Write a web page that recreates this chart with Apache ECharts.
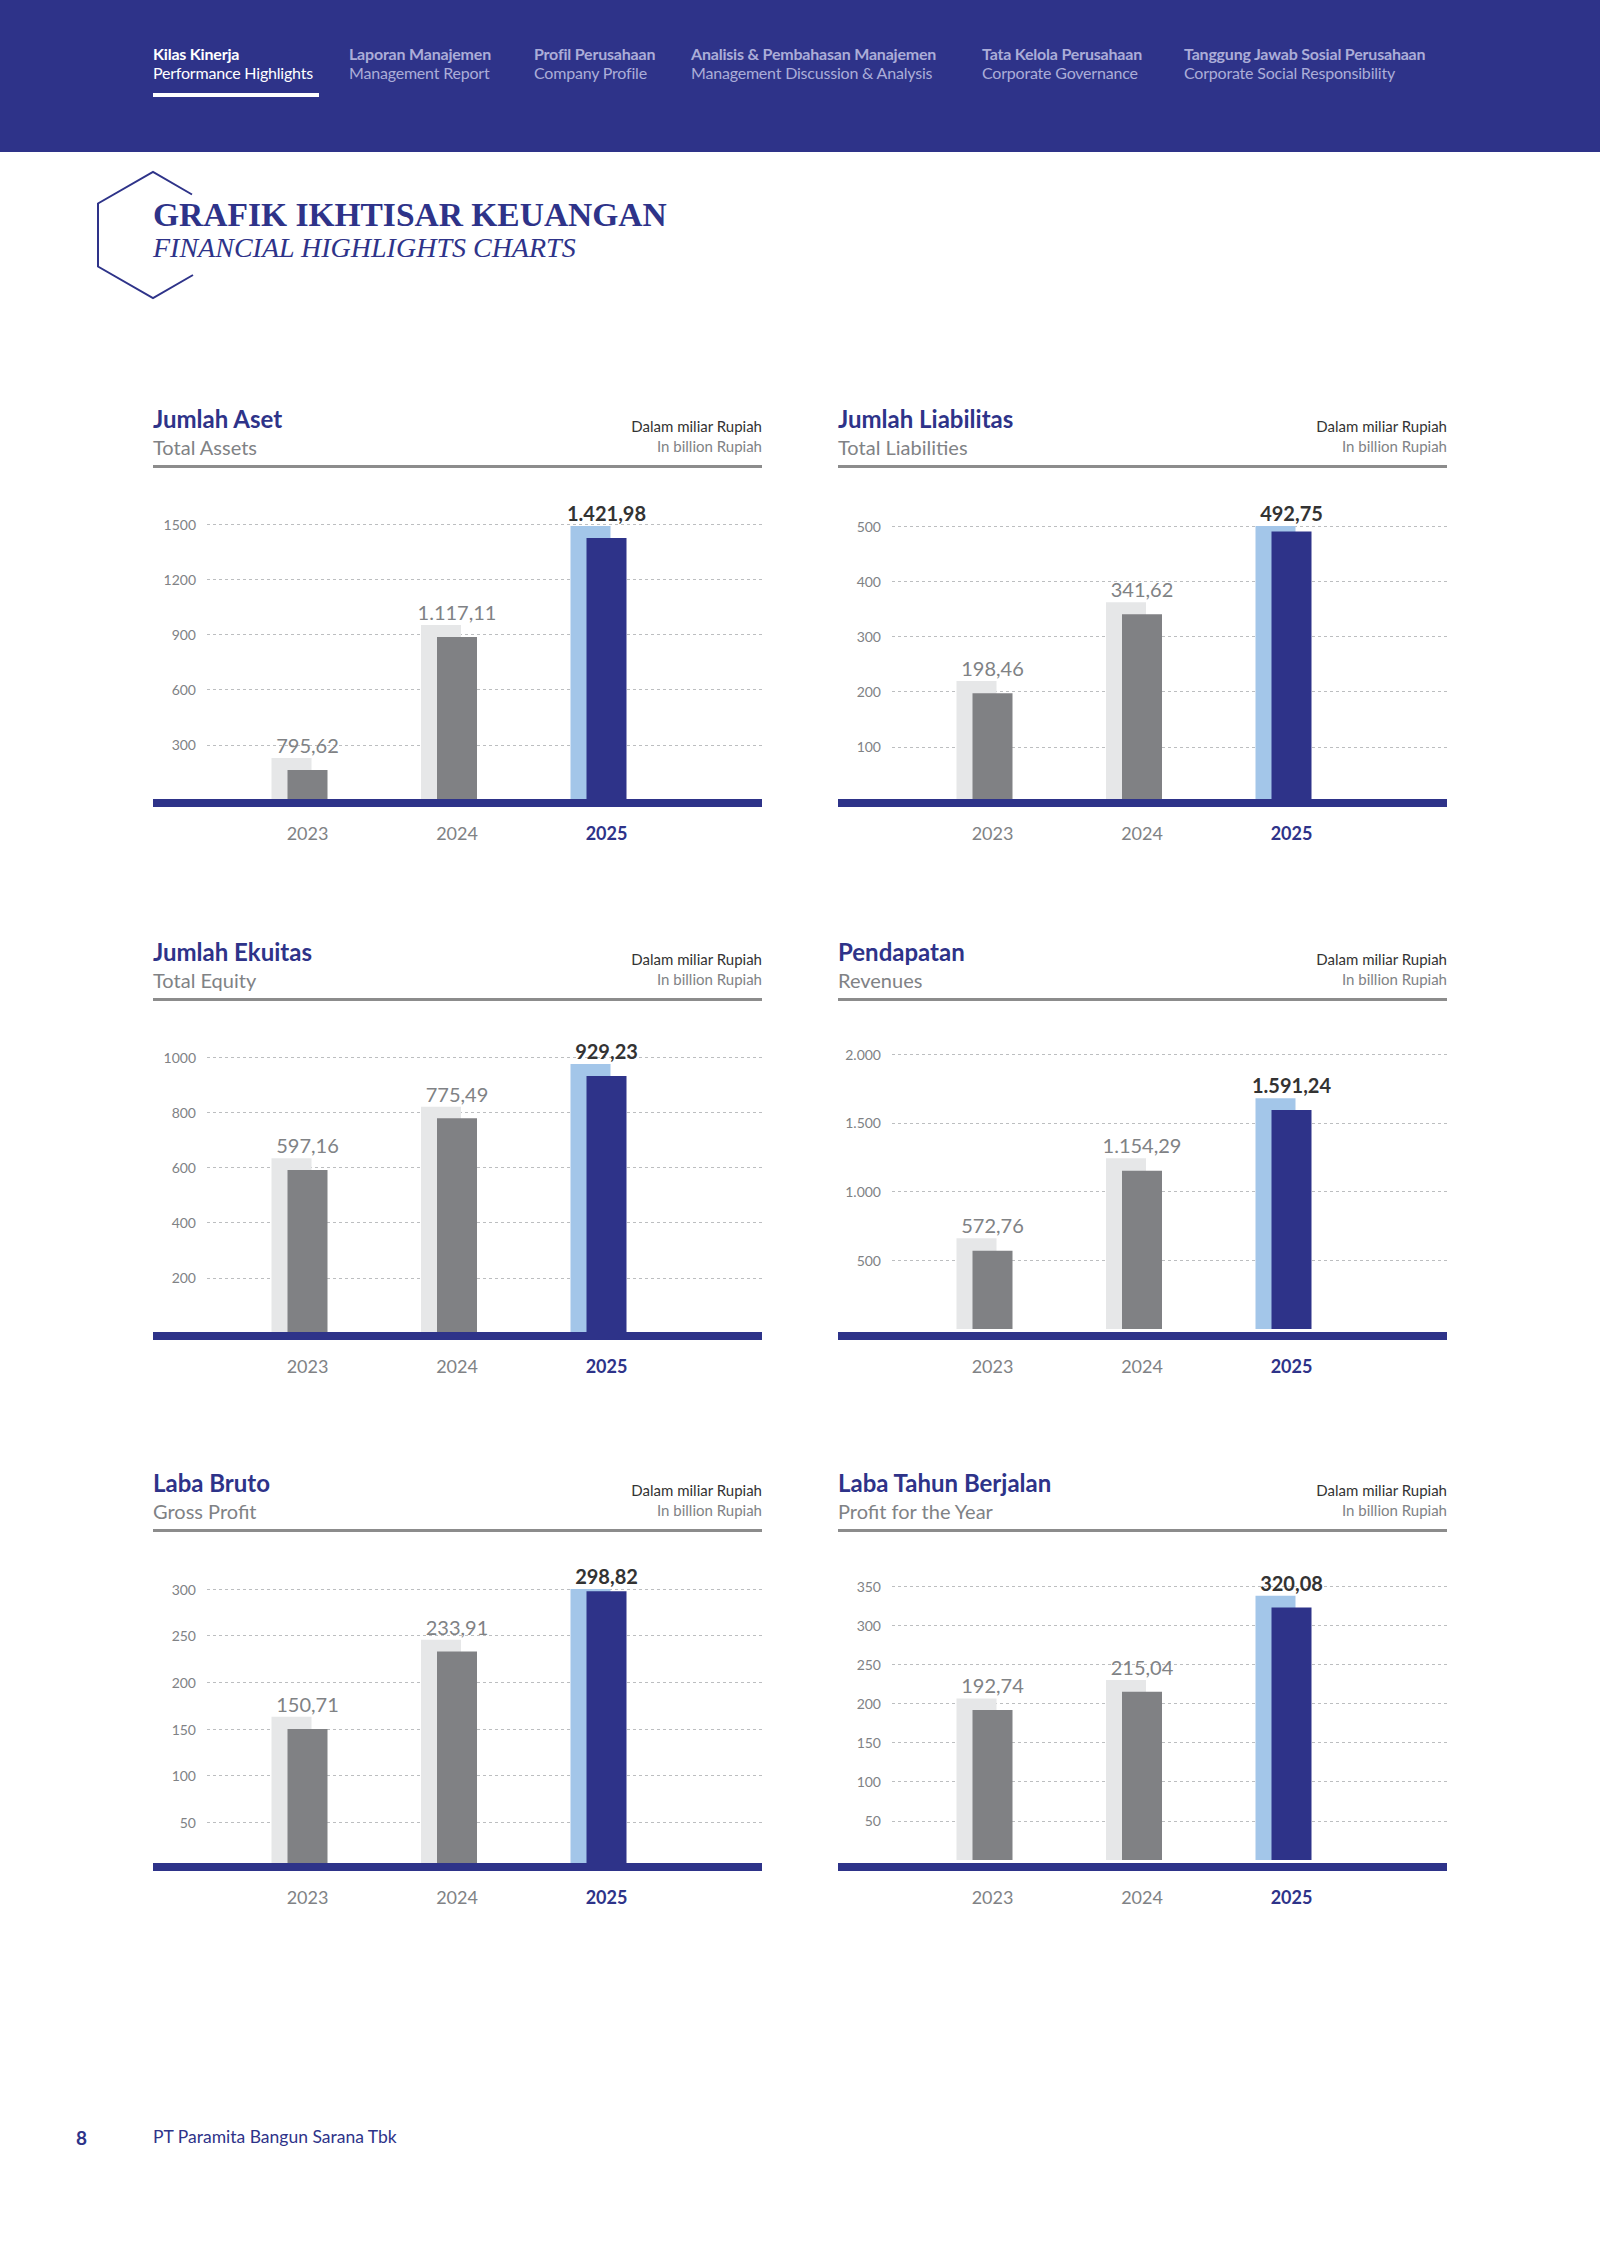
<!DOCTYPE html>
<html><head><meta charset="utf-8">
<script src="https://cdn.jsdelivr.net/npm/echarts@6/dist/echarts.min.js"></script>
<style>
html,body{margin:0;padding:0;background:#fff;}
#page{position:relative;width:1600px;height:2263px;overflow:hidden;background:#fff;}
#deco{position:absolute;left:0;top:0;}
#chart{position:absolute;left:0;top:0;width:1600px;height:2263px;}
</style></head>
<body><div id="page"><svg id="deco" width="1600" height="2263" xmlns="http://www.w3.org/2000/svg"></svg><div id="chart"></div></div>
<script>
// ---------------- DATA ----------------
const years = ['2023', '2024', '2025'];

const navBold = ['Kilas Kinerja', 'Laporan Manajemen', 'Profil Perusahaan', 'Analisis & Pembahasan Manajemen', 'Tata Kelola Perusahaan', 'Tanggung Jawab Sosial Perusahaan'];
const navSub = ['Performance Highlights', 'Management Report', 'Company Profile', 'Management Discussion & Analysis', 'Corporate Governance', 'Corporate Social Responsibility'];

const pageTitle = 'GRAFIK IKHTISAR KEUANGAN';
const pageSubtitle = 'FINANCIAL HIGHLIGHTS CHARTS';
const unitId = 'Dalam miliar Rupiah';
const unitEn = 'In billion Rupiah';
const footerPage = '8';
const footerCompany = 'PT Paramita Bangun Sarana Tbk';

const panelTitles = ['Jumlah Aset', 'Jumlah Liabilitas', 'Jumlah Ekuitas', 'Pendapatan', 'Laba Bruto', 'Laba Tahun Berjalan'];
const panelSubtitles = ['Total Assets', 'Total Liabilities', 'Total Equity', 'Revenues', 'Gross Profit', 'Profit for the Year'];

// Total Assets (bar heights as drawn in the picture)
const assetsBar = [163, 886, 1424];
const assetsShade = [228, 951, 1489];
const assetsLabels = ['795,62', '1.117,11', '1.421,98'];
const assetsTicks = ['300', '600', '900', '1200', '1500'];

// Total Liabilities
const liabBar = [197, 340, 490];
const liabShade = [219, 362, 512];
const liabLabels = ['198,46', '341,62', '492,75'];
const liabTicks = ['100', '200', '300', '400', '500'];

// Total Equity
const equityBar = [591, 778, 931];
const equityShade = [633, 820, 975];
const equityLabels = ['597,16', '775,49', '929,23'];
const equityTicks = ['200', '400', '600', '800', '1000'];

// Revenues
const revBar = [569, 1151, 1593];
const revShade = [660, 1241, 1678];
const revLabels = ['572,76', '1.154,29', '1.591,24'];
const revTicks = ['500', '1.000', '1.500', '2.000'];

// Gross Profit
const grossBar = [150, 233, 297.5];
const grossShade = [163, 245.7, 310.8];
const grossLabels = ['150,71', '233,91', '298,82'];
const grossTicks = ['50', '100', '150', '200', '250', '300'];

// Profit for the Year
const profitBar = [191.5, 214.9, 322.6];
const profitShade = [206.4, 229.8, 337.4];
const profitLabels = ['192,74', '215,04', '320,08'];
const profitTicks = ['50', '100', '150', '200', '250', '300', '350'];

// ---------------- STYLE / LAYOUT ----------------
const NAVY = '#2E3389';
const GREY_TXT = '#808285';
const SANS = 'Lato';
const NS = 'http://www.w3.org/2000/svg';
const svg = document.getElementById('deco');

function el(tag, attrs, text) {
  const e = document.createElementNS(NS, tag);
  for (const k in attrs) e.setAttribute(k, attrs[k]);
  if (text !== undefined) e.textContent = text;
  svg.appendChild(e);
  return e;
}

// header band
el('rect', {x: 0, y: 0, width: 1600, height: 152, fill: NAVY});
const navX = [153, 349, 534, 691, 982, 1184];
navBold.forEach((s, i) => {
  const c = i === 0 ? '#FFFFFF' : '#ABADD8';
  el('text', {x: navX[i], y: 60, 'font-family': SANS, 'font-size': 16, 'font-weight': 'bold', fill: c, 'letter-spacing': '-0.2'}, s);
  el('text', {x: navX[i], y: 79, 'font-family': SANS, 'font-size': 16, fill: c, 'letter-spacing': '-0.2'}, navSub[i]);
});
el('rect', {x: 153, y: 93, width: 166, height: 4, fill: '#FFFFFF'});

// hexagon + title
el('polyline', {points: '192,194.5 153,172 98,203.5 98,266.5 153,298 193,275', fill: 'none', stroke: NAVY, 'stroke-width': 2});
el('text', {x: 153, y: 226, 'font-family': 'Liberation Serif', 'font-size': 33.5, 'font-weight': 'bold', fill: NAVY}, pageTitle);
el('text', {x: 153, y: 257, 'font-family': 'Liberation Serif', 'font-size': 28, 'font-style': 'italic', fill: NAVY}, pageSubtitle);

// footer
el('text', {x: 76, y: 2145, 'font-family': SANS, 'font-size': 19, 'font-weight': 'bold', fill: NAVY}, footerPage);
el('text', {x: 153, y: 2143, 'font-family': SANS, 'font-size': 17.5, fill: NAVY}, footerCompany);

// panels
const colX = [153, 838];
const rowDY = [0, 533, 1064];
const PANEL_W = 609;

const charts = [
  {bar: assetsBar, shade: assetsShade, labels: assetsLabels, ticks: assetsTicks, max: 1500, step: 300, topY: 524, zeroY: 800, col: 0, row: 0},
  {bar: liabBar, shade: liabShade, labels: liabLabels, ticks: liabTicks, max: 500, step: 100, topY: 526, zeroY: 802, col: 1, row: 0},
  {bar: equityBar, shade: equityShade, labels: equityLabels, ticks: equityTicks, max: 1000, step: 200, topY: 1057, zeroY: 1333, col: 0, row: 1},
  {bar: revBar, shade: revShade, labels: revLabels, ticks: revTicks, max: 2000, step: 500, topY: 1054, zeroY: 1329, col: 1, row: 1},
  {bar: grossBar, shade: grossShade, labels: grossLabels, ticks: grossTicks, max: 300, step: 50, topY: 1589, zeroY: 1869, col: 0, row: 2},
  {bar: profitBar, shade: profitShade, labels: profitLabels, ticks: profitTicks, max: 350, step: 50, topY: 1586, zeroY: 1860, col: 1, row: 2}
];

charts.forEach((c, k) => {
  const x0 = colX[c.col], dy = rowDY[c.row];
  el('text', {x: x0, y: 428 + dy, 'font-family': SANS, 'font-size': 24, 'font-weight': 'bold', fill: NAVY}, panelTitles[k]);
  el('text', {x: x0, y: 455 + dy, 'font-family': SANS, 'font-size': 20, fill: GREY_TXT}, panelSubtitles[k]);
  el('text', {x: x0 + PANEL_W, y: 432 + dy, 'font-family': SANS, 'font-size': 15, fill: '#333333', 'text-anchor': 'end'}, unitId);
  el('text', {x: x0 + PANEL_W, y: 452 + dy, 'font-family': SANS, 'font-size': 15, fill: GREY_TXT, 'text-anchor': 'end'}, unitEn);
  el('rect', {x: x0, y: 465 + dy, width: PANEL_W, height: 3, fill: '#8C8C8C'});
});

// ---------------- ECHARTS ----------------
const grid = [], xAxis = [], yAxis = [], series = [];
charts.forEach((c, k) => {
  const x0 = colX[c.col], dy = rowDY[c.row];
  const axisY = 803 + dy;
  const labelMid = axisY + 29.5;
  const H = 2263;
  const gA = 3 * k, gB = 3 * k + 1, gC = 3 * k + 2;
  // grid A : dashed split lines + y labels
  grid.push({left: x0 + 54, right: 1600 - (x0 + PANEL_W), top: c.topY, bottom: H - c.zeroY});
  // grid B : bars
  grid.push({left: x0 + 71.75, right: 1600 - (x0 + 520.25), top: c.topY, bottom: H - c.zeroY});
  // grid C : thick baseline
  grid.push({left: x0, right: 1600 - (x0 + PANEL_W), top: axisY - 20, bottom: H - axisY});

  xAxis.push({gridIndex: gA, type: 'category', data: years, show: false});
  yAxis.push({
    gridIndex: gA, type: 'value', min: 0, max: c.max, interval: c.step,
    axisLine: {show: false}, axisTick: {show: false},
    axisLabel: {
      margin: 11, fontFamily: SANS, fontSize: 14, color: GREY_TXT,
      formatter: (v) => { const i = Math.round(v / c.step) - 1; return i >= 0 ? (c.ticks[i] || '') : ''; }
    },
    splitLine: {show: true, showMinLine: false, lineStyle: {color: '#BCBEC0', width: 1, type: [3, 3]}}
  });

  xAxis.push({
    gridIndex: gB, type: 'category', data: years,
    axisLine: {show: false}, axisTick: {show: false},
    axisLabel: {
      margin: labelMid - c.zeroY, verticalAlign: 'middle', interval: 0,
      formatter: (v, i) => (i === years.length - 1 ? '{b|' + v + '}' : '{a|' + v + '}'),
      rich: {
        a: {fontFamily: SANS, fontSize: 18, color: GREY_TXT, padding: [0, 0, 0, 16]},
        b: {fontFamily: SANS, fontSize: 18, fontWeight: 'bold', color: NAVY, padding: [0, 0, 0, 16]}
      }
    }
  });
  yAxis.push({gridIndex: gB, type: 'value', min: 0, max: c.max, interval: c.step, show: false, splitLine: {show: false}});

  xAxis.push({
    gridIndex: gC, type: 'category', data: [''], z: 10,
    axisLine: {show: true, onZero: false, lineStyle: {color: NAVY, width: 8, cap: 'butt'}},
    axisTick: {show: false}, axisLabel: {show: false}
  });
  yAxis.push({gridIndex: gC, type: 'value', show: false, splitLine: {show: false}});

  const last = years.length - 1;
  series.push({
    type: 'bar', xAxisIndex: gB, yAxisIndex: gB, barWidth: 40, barGap: '-60%', silent: true,
    data: c.shade.map((v, i) => ({
      value: v,
      itemStyle: {color: i === last ? '#A3C6E9' : '#E6E7E8'},
      label: i === last ? {fontWeight: 'bold', color: '#333333'} : {}
    })),
    label: {
      show: true, position: 'top', distance: 3, offset: [16, 0],
      fontFamily: SANS, fontSize: 20, color: GREY_TXT,
      formatter: (p) => c.labels[p.dataIndex]
    }
  });
  series.push({
    type: 'bar', xAxisIndex: gB, yAxisIndex: gB, barWidth: 40, barGap: '-60%', silent: true,
    data: c.bar.map((v, i) => ({value: v, itemStyle: {color: i === last ? NAVY : '#808184'}}))
  });
});

const chart = echarts.init(document.getElementById('chart'), null, {renderer: 'svg', width: 1600, height: 2263});
chart.setOption({animation: false, backgroundColor: 'transparent', grid, xAxis, yAxis, series});
</script>
</body></html>
